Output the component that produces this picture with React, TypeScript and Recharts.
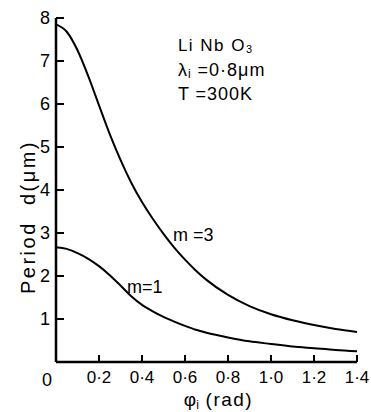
import React from 'react';
import { LineChart, Line, XAxis, YAxis, ReferenceDot } from 'recharts';

// phase-matching angle (rad) and grating period d (um), LiNbO3, lambda_i = 0.8 um, T = 300 K
const phi = [0, 0.05, 0.1, 0.15, 0.2, 0.25, 0.3, 0.35, 0.4, 0.45, 0.5, 0.55, 0.6, 0.65, 0.7, 0.8, 0.9, 1.0, 1.1, 1.2, 1.3, 1.4];
const periodM3 = [7.85, 7.68, 7.25, 6.65, 5.97, 5.3, 4.7, 4.17, 3.72, 3.33, 2.98, 2.66, 2.38, 2.13, 1.91, 1.56, 1.3, 1.11, 0.97, 0.86, 0.77, 0.7];
const periodM1 = [2.67, 2.63, 2.53, 2.4, 2.23, 2.02, 1.78, 1.53, 1.33, 1.18, 1.05, 0.94, 0.84, 0.75, 0.68, 0.57, 0.48, 0.42, 0.36, 0.32, 0.28, 0.25];
const xTicks = [0.2, 0.4, 0.6, 0.8, 1.0, 1.2, 1.4];
const yTicks = [0, 1, 2, 3, 4, 5, 6, 7, 8];

const data = phi.map((p, i) => ({ phi: p, m3: periodM3[i], m1: periodM1[i] }));

const FONT = '"Liberation Sans", Arial, sans-serif';
const fmt = (v: number) => v.toFixed(1).replace('.', '·');

const XTick = ({ x, y, payload }: any) => (
  <g>
    <line x1={x} y1={y} x2={x} y2={y - 7} stroke="#000" strokeWidth={2} />
    <text x={x} y={y + 21} textAnchor="middle" fontSize={17} fontFamily={FONT} fill="#000">
      {fmt(payload.value)}
    </text>
  </g>
);

const YTick = ({ x, y, payload }: any) => {
  if (payload.value === 0) {
    return (
      <text x={x - 4} y={y + 24} textAnchor="end" fontSize={18} fontFamily={FONT} fill="#000">0</text>
    );
  }
  return (
    <g>
      <line x1={x} y1={y} x2={x + 8} y2={y} stroke="#000" strokeWidth={2} />
      <text x={x - 6} y={y + 6} textAnchor="end" fontSize={18} fontFamily={FONT} fill="#000">
        {payload.value}
      </text>
    </g>
  );
};

const note = (render: (x: number, y: number) => React.ReactNode) => (props: any) => {
  const vb = props.viewBox || { x: 0, y: 0, width: 0, height: 0 };
  return render(vb.x + (vb.width || 0) / 2, vb.y + (vb.height || 0) / 2);
};

const txt = { fontSize: 17, fontFamily: FONT, fill: '#000' };

export default function App() {
  return (
    <div style={{ position: 'absolute', left: 0, top: 0 }}>
      <LineChart width={371} height={412} data={data} margin={{ top: 18, right: 14, left: 0, bottom: 0 }}>
        <XAxis
          dataKey="phi"
          type="number"
          domain={[0, 1.4]}
          ticks={xTicks}
          tickSize={0}
          tickMargin={0}
          tickLine={false}
          tick={<XTick />}
          height={50}
          axisLine={{ stroke: '#000', strokeWidth: 2.5 }}
          label={note((x, y) => (
            <text x={x + 12} y={y + 19} textAnchor="middle" fontSize={19} fontFamily={FONT} fill="#000">
              φ<tspan fontSize={12} dy={3}>i</tspan>
              <tspan dy={-3} letterSpacing={1.5}> (rad)</tspan>
            </text>
          ))}
        />
        <YAxis
          type="number"
          domain={[0, 8]}
          ticks={yTicks}
          tickSize={0}
          tickMargin={0}
          tickLine={false}
          tick={<YTick />}
          width={56}
          axisLine={{ stroke: '#000', strokeWidth: 2.5 }}
          label={note((x, y) => (
            <text
              x={0}
              y={0}
              transform={`translate(${x}, ${y + 27}) rotate(-90)`}
              textAnchor="middle"
              fontSize={20}
              letterSpacing={2.5}
              fontFamily={FONT}
              fill="#000"
              dy={7}
            >
              {'Period\u00a0\u00a0d(μm)'}
            </text>
          ))}
        />
        <Line type="monotone" dataKey="m3" stroke="#000" strokeWidth={2} dot={false} isAnimationActive={false} />
        <Line type="monotone" dataKey="m1" stroke="#000" strokeWidth={2} dot={false} isAnimationActive={false} />
        <ReferenceDot x={0.567} y={7.37} r={0} fill="none" stroke="none"
          label={note((x, y) => (
            <text x={x} y={y} dy={6} {...txt} letterSpacing={1.5}>
              Li Nb O<tspan fontSize={11} dy={2}>3</tspan>
            </text>
          ))} />
        <ReferenceDot x={0.567} y={6.79} r={0} fill="none" stroke="none"
          label={note((x, y) => (
            <text x={x} y={y} dy={6} {...txt} fontSize={18} letterSpacing={1}>
              λ<tspan fontSize={12} dy={2}>i</tspan>
              <tspan dy={-2}> =0·8μm</tspan>
            </text>
          ))} />
        <ReferenceDot x={0.567} y={6.23} r={0} fill="none" stroke="none"
          label={note((x, y) => (
            <text x={x} y={y} dy={6} {...txt} fontSize={18} letterSpacing={1}>T =300K</text>
          ))} />
        <ReferenceDot x={0.544} y={2.95} r={0} fill="none" stroke="none"
          label={note((x, y) => (
            <text x={x} y={y} dy={6} {...txt} fontSize={18}>m =3</text>
          ))} />
        <ReferenceDot x={0.33} y={1.74} r={0} fill="none" stroke="none"
          label={note((x, y) => (
            <text x={x} y={y} dy={6} {...txt} fontSize={18}>m=1</text>
          ))} />
      </LineChart>
    </div>
  );
}
